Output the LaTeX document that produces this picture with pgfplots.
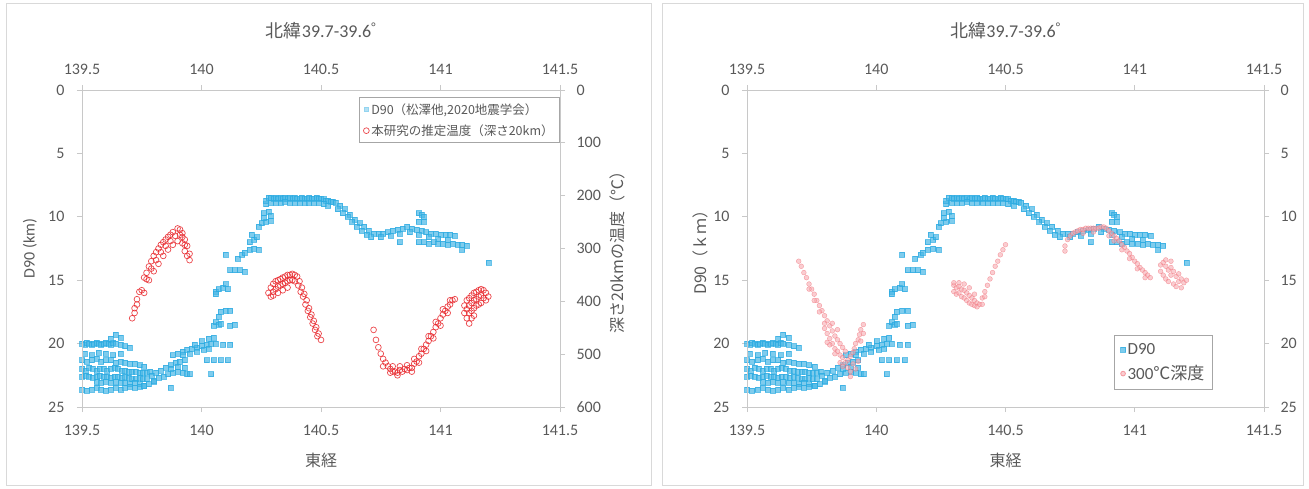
\documentclass[border=0pt]{standalone}
\usepackage{fontspec}
\usepackage{pgfplots}
\pgfplotsset{compat=1.18}
\usepackage{pgfplotstable}
\setmainfont{Carlito}
\newfontfamily\cjk{Noto Sans CJK JP}
\definecolor{dblue}{RGB}{40,170,225}
\definecolor{dred}{RGB}{232,40,45}
\definecolor{dpink}{RGB}{240,105,115}
\definecolor{axgray}{RGB}{200,200,200}
\definecolor{txtgray}{RGB}{89,89,89}
\definecolor{framegray}{RGB}{217,217,217}

% D90 (lon, depth km)
\pgfplotstableread[row sep=\\]{
x y\\
139.50 20.0\\ 139.51 20.1\\ 139.52 19.9\\ 139.53 20.0\\ 139.54 20.1\\ 139.55 20.0\\ 139.56 19.9\\ 139.57 20.0\\ 139.58 20.1\\ 139.59 20.0\\
139.60 19.9\\ 139.61 20.0\\ 139.62 20.1\\ 139.63 19.9\\ 139.64 20.0\\ 139.66 20.1\\ 139.68 20.2\\ 139.70 20.3\\ 139.62 19.6\\ 139.64 19.3\\ 139.66 19.5\\
139.51 20.8\\ 139.54 20.9\\ 139.57 20.7\\ 139.60 20.8\\ 139.63 20.9\\ 139.66 20.8\\
139.50 21.3\\ 139.52 21.4\\ 139.54 21.3\\ 139.56 21.2\\ 139.58 21.4\\ 139.60 21.3\\ 139.62 21.3\\ 139.64 21.5\\ 139.66 21.4\\ 139.68 21.5\\ 139.70 21.6\\ 139.72 21.6\\ 139.74 21.7\\ 139.76 21.8\\
139.50 22.0\\ 139.515 22.1\\ 139.53 21.9\\ 139.545 22.0\\ 139.56 22.1\\ 139.575 22.0\\ 139.59 22.0\\ 139.605 22.1\\ 139.62 22.0\\ 139.635 21.9\\ 139.65 22.0\\ 139.665 22.1\\ 139.68 22.1\\ 139.695 22.2\\ 139.71 22.2\\ 139.725 22.2\\ 139.74 22.3\\ 139.755 22.3\\ 139.77 22.3\\ 139.785 22.2\\
139.50 22.6\\ 139.515 22.5\\ 139.53 22.6\\ 139.545 22.7\\ 139.56 22.6\\ 139.575 22.5\\ 139.59 22.6\\ 139.605 22.6\\ 139.62 22.7\\ 139.635 22.6\\ 139.65 22.6\\ 139.665 22.7\\ 139.68 22.6\\ 139.695 22.7\\ 139.71 22.8\\ 139.725 22.8\\ 139.74 22.7\\ 139.755 22.8\\ 139.77 22.8\\
139.56 23.0\\ 139.58 23.1\\ 139.60 23.0\\ 139.62 23.1\\ 139.64 23.0\\ 139.66 23.1\\ 139.68 23.1\\ 139.70 23.2\\ 139.72 23.1\\ 139.74 23.2\\ 139.76 23.3\\ 139.78 23.2\\ 139.80 23.0\\
139.50 23.6\\ 139.52 23.7\\ 139.54 23.6\\ 139.56 23.5\\ 139.58 23.6\\ 139.60 23.7\\ 139.62 23.6\\ 139.64 23.5\\ 139.66 23.6\\ 139.68 23.5\\ 139.70 23.4\\ 139.72 23.5\\ 139.74 23.4\\ 139.76 23.3\\
139.79 22.5\\ 139.81 22.3\\ 139.83 22.1\\ 139.85 21.9\\ 139.87 21.7\\ 139.89 21.5\\ 139.91 21.4\\ 139.93 21.3\\ 139.80 22.9\\ 139.82 22.7\\ 139.84 22.6\\ 139.86 22.4\\ 139.88 22.3\\ 139.90 22.2\\ 139.92 22.3\\ 139.94 22.4\\ 139.87 22.0\\ 139.90 21.8\\ 139.93 21.9\\ 139.95 22.4\\
139.88 20.9\\ 139.90 20.8\\ 139.92 20.6\\ 139.94 20.5\\ 139.96 20.4\\ 139.98 20.3\\ 140.00 20.2\\ 140.02 20.1\\ 140.04 20.0\\ 139.92 20.9\\ 139.95 20.8\\ 139.98 20.6\\ 140.01 20.5\\ 140.03 20.4\\ 139.97 20.1\\ 140.00 19.8\\ 140.03 19.6\\ 140.05 19.5\\
140.06 20.0\\ 140.09 20.1\\ 140.12 20.1\\ 140.02 21.3\\ 140.05 21.3\\ 140.08 21.3\\ 140.11 21.3\\ 140.04 22.4\\ 139.87 23.5\\
140.05 18.6\\ 140.06 18.3\\ 140.07 18.5\\ 140.08 18.4\\ 140.12 18.6\\ 140.14 18.5\\ 140.07 17.9\\ 140.08 17.5\\ 140.10 17.4\\ 140.12 17.4\\
140.06 15.9\\ 140.07 15.7\\ 140.09 15.6\\ 140.11 15.7\\ 140.06 16.1\\ 140.10 15.3\\
140.10 13.0\\ 140.12 14.2\\ 140.14 14.2\\ 140.16 14.2\\ 140.18 14.3\\
140.15 13.3\\ 140.17 13.0\\ 140.18 12.8\\ 140.20 12.6\\ 140.22 12.5\\ 140.24 12.6\\ 140.20 12.0\\ 140.22 11.8\\ 140.23 11.6\\ 140.21 11.4\\
140.24 10.8\\ 140.25 10.5\\ 140.27 10.4\\ 140.29 10.3\\ 140.26 10.1\\ 140.26 9.7\\ 140.28 9.6\\ 140.29 9.9\\ 140.27 9.0\\ 140.27 8.7\\ 140.28 8.5\\
140.29 8.5\\ 140.30 8.6\\ 140.31 8.5\\ 140.32 8.6\\ 140.33 8.5\\ 140.34 8.6\\ 140.35 8.5\\ 140.36 8.6\\ 140.37 8.5\\ 140.38 8.6\\ 140.39 8.5\\ 140.40 8.6\\ 140.41 8.6\\ 140.42 8.5\\ 140.43 8.6\\ 140.44 8.6\\ 140.45 8.5\\ 140.46 8.6\\ 140.47 8.6\\ 140.48 8.5\\ 140.49 8.6\\ 140.50 8.6\\ 140.51 8.6\\ 140.52 8.7\\ 140.53 8.7\\ 140.54 8.8\\ 140.55 8.8\\
140.29 8.9\\ 140.31 8.9\\ 140.33 8.9\\ 140.35 8.8\\ 140.37 8.9\\ 140.39 8.9\\ 140.41 8.9\\ 140.43 8.9\\ 140.45 8.9\\ 140.47 8.9\\ 140.49 8.9\\ 140.51 9.0\\ 140.53 9.1\\
140.56 8.9\\ 140.58 9.1\\ 140.60 9.4\\ 140.62 9.8\\ 140.64 10.2\\ 140.66 10.5\\ 140.68 10.8\\ 140.70 11.1\\ 140.72 11.3\\
140.57 9.4\\ 140.59 9.7\\ 140.61 10.0\\ 140.63 10.4\\ 140.65 10.8\\ 140.67 11.1\\ 140.69 11.4\\ 140.71 11.6\\
140.74 11.3\\ 140.76 11.3\\ 140.78 11.2\\ 140.80 11.1\\ 140.82 11.0\\ 140.84 10.9\\ 140.86 10.8\\ 140.88 10.9\\ 140.90 11.0\\ 140.92 11.1\\ 140.94 11.2\\ 140.96 11.3\\ 140.98 11.3\\ 141.00 11.4\\ 141.02 11.4\\ 141.04 11.4\\ 141.06 11.5\\
140.75 11.6\\ 140.79 11.5\\ 140.83 11.3\\ 140.87 11.2\\ 140.91 11.4\\ 140.95 11.6\\ 140.99 11.7\\ 141.03 11.8\\
140.91 12.0\\ 140.93 12.0\\ 140.95 12.1\\ 140.97 12.0\\ 140.99 12.1\\ 141.01 12.1\\ 141.03 12.2\\ 141.05 12.1\\ 141.07 12.2\\ 141.09 12.2\\ 141.11 12.3\\
140.91 9.7\\ 140.92 9.8\\ 140.93 10.0\\ 140.91 10.4\\ 140.93 10.4\\
141.20 13.6\\ 140.83 12.0\\ 141.09 12.6\\
}\tblue

% estimated temperature at 20 km depth (lon, degC)
\pgfplotstableread[row sep=\\]{
x y\\
139.72 413\\ 139.74 382\\ 139.76 355\\ 139.78 334\\ 139.80 314\\ 139.82 300\\ 139.84 288\\ 139.86 278\\ 139.88 269\\ 139.90 262\\ 139.91 264\\
139.71 432\\ 139.73 406\\ 139.75 379\\ 139.77 358\\ 139.79 338\\ 139.81 322\\ 139.83 307\\ 139.85 295\\ 139.87 286\\ 139.89 276\\ 139.91 274\\ 139.92 278\\
139.76 384\\ 139.78 360\\ 139.80 343\\ 139.82 329\\ 139.84 314\\ 139.86 302\\ 139.88 293\\ 139.90 286\\ 139.92 290\\
139.93 305\\ 139.94 314\\ 139.95 322\\ 139.93 283\\ 139.94 295\\ 139.92 271\\ 139.93 293\\ 139.95 310\\
139.79 324\\ 139.83 293\\ 139.87 274\\ 139.85 283\\ 139.81 307\\ 139.77 346\\ 139.73 396\\ 139.72 422\\
140.28 384\\ 140.29 374\\ 140.29 391\\ 140.30 367\\ 140.30 382\\ 140.31 362\\ 140.31 377\\ 140.32 360\\ 140.32 372\\ 140.33 358\\ 140.33 370\\ 140.34 355\\ 140.34 367\\ 140.35 353\\
140.35 365\\ 140.36 350\\ 140.36 362\\ 140.37 350\\ 140.37 360\\ 140.38 348\\ 140.38 360\\ 140.39 350\\ 140.39 362\\ 140.40 353\\ 140.30 389\\ 140.32 384\\ 140.34 379\\ 140.36 374\\
140.41 362\\ 140.42 374\\ 140.43 386\\ 140.44 398\\ 140.45 413\\ 140.46 425\\ 140.47 437\\ 140.48 449\\ 140.49 461\\ 140.50 473\\
140.405 370\\ 140.415 382\\ 140.425 391\\ 140.435 406\\ 140.445 418\\ 140.455 430\\ 140.465 442\\ 140.475 454\\ 140.485 466\\
140.72 454\\ 140.73 473\\ 140.74 487\\ 140.75 499\\ 140.76 509\\ 140.77 516\\ 140.78 523\\ 140.79 528\\ 140.80 533\\ 140.81 533\\ 140.82 535\\ 140.83 530\\ 140.84 533\\ 140.85 528\\
140.86 530\\ 140.87 526\\ 140.88 526\\ 140.89 518\\ 140.90 514\\ 140.91 504\\ 140.92 499\\ 140.93 490\\ 140.94 482\\ 140.95 475\\ 140.96 466\\ 140.97 458\\ 140.98 449\\ 140.99 442\\
141.00 432\\ 141.01 425\\ 141.02 418\\ 141.03 410\\ 141.04 406\\ 141.05 398\\ 141.06 396\\
140.80 523\\ 140.83 523\\ 140.86 521\\ 140.89 509\\ 140.92 490\\ 140.95 466\\ 140.98 439\\ 141.01 415\\ 141.04 398\\
140.76 523\\ 140.79 535\\ 140.82 540\\ 140.88 533\\ 140.91 516\\ 140.94 494\\ 140.97 470\\ 141.00 446\\ 141.03 422\\
141.10 408\\ 141.10 422\\ 141.11 398\\ 141.11 415\\ 141.11 432\\ 141.12 394\\ 141.12 408\\ 141.12 422\\ 141.12 442\\ 141.13 389\\ 141.13 403\\ 141.13 418\\ 141.14 384\\ 141.14 398\\
141.14 413\\ 141.15 382\\ 141.15 396\\ 141.15 408\\ 141.16 379\\ 141.16 391\\ 141.16 406\\ 141.17 377\\ 141.17 389\\ 141.17 403\\ 141.18 379\\ 141.18 394\\ 141.19 384\\ 141.19 398\\
141.20 391\\ 141.14 427\\ 141.13 432\\
}\tred

% depth of 300 degC (lon, km)
\pgfplotstableread[row sep=\\]{
x y\\
139.70 13.5\\ 139.71 13.9\\ 139.72 14.4\\ 139.73 14.8\\ 139.74 15.3\\ 139.75 15.7\\ 139.76 16.1\\ 139.77 16.6\\ 139.78 17.0\\ 139.79 17.4\\ 139.80 17.8\\ 139.81 18.2\\
139.74 15.7\\ 139.76 16.6\\ 139.78 17.5\\ 139.80 18.4\\
139.80 18.8\\ 139.81 19.2\\ 139.82 18.6\\ 139.82 19.6\\ 139.83 19.0\\ 139.83 20.0\\ 139.84 19.4\\ 139.84 20.4\\ 139.85 19.7\\ 139.85 20.6\\ 139.86 20.0\\ 139.86 20.9\\ 139.87 20.3\\ 139.87 21.1\\
139.88 20.6\\ 139.82 20.1\\ 139.84 20.8\\ 139.81 19.9\\ 139.83 18.4\\ 139.85 18.9\\
139.95 18.5\\ 139.94 18.9\\ 139.935 19.3\\ 139.93 19.7\\ 139.92 20.0\\ 139.915 20.4\\ 139.91 20.7\\ 139.90 21.0\\ 139.89 21.3\\ 139.95 19.2\\ 139.94 19.8\\
139.88 21.5\\ 139.89 21.9\\ 139.90 22.2\\ 139.91 21.6\\ 139.92 22.0\\ 139.93 21.4\\ 139.90 22.6\\ 139.87 21.8\\ 139.86 21.5\\
140.30 15.4\\ 140.30 15.9\\ 140.31 15.6\\ 140.31 16.1\\ 140.32 15.5\\ 140.32 16.0\\ 140.33 15.7\\ 140.33 16.3\\ 140.34 15.8\\ 140.34 16.4\\ 140.35 16.0\\ 140.35 16.6\\ 140.36 16.2\\
140.36 16.8\\ 140.37 16.4\\ 140.37 16.9\\ 140.38 16.6\\ 140.38 17.0\\ 140.39 16.8\\ 140.39 17.1\\ 140.40 16.9\\ 140.30 15.2\\ 140.32 15.2\\ 140.34 15.3\\ 140.36 15.6\\ 140.38 16.1\\
140.41 16.4\\ 140.42 15.9\\ 140.43 15.4\\ 140.44 14.9\\ 140.45 14.4\\ 140.46 13.9\\ 140.47 13.5\\ 140.48 13.0\\ 140.49 12.6\\ 140.50 12.2\\ 140.41 16.9\\ 140.42 16.3\\
140.73 12.3\\ 140.73 12.7\\ 140.74 11.8\\ 140.75 11.5\\ 140.76 11.3\\ 140.77 11.2\\ 140.78 11.1\\ 140.79 11.0\\ 140.80 11.0\\ 140.81 10.9\\ 140.82 10.9\\ 140.83 10.9\\ 140.84 10.9\\
140.85 10.9\\ 140.86 10.9\\ 140.87 10.8\\ 140.88 10.8\\ 140.89 10.9\\ 140.90 11.1\\ 140.91 11.3\\ 140.92 11.5\\ 140.93 11.7\\ 140.94 11.9\\ 140.95 12.2\\ 140.96 12.4\\ 140.97 12.7\\
140.98 12.9\\ 140.99 13.2\\ 141.00 13.5\\ 141.01 13.7\\ 141.02 14.0\\ 141.03 14.2\\ 141.04 14.4\\ 141.05 14.6\\ 141.06 14.8\\
140.92 11.9\\ 140.95 12.6\\ 140.98 13.3\\ 141.01 14.1\\ 141.04 14.8\\ 140.90 11.5\\ 140.80 11.3\\ 140.84 11.2\\
141.10 13.8\\ 141.10 14.3\\ 141.11 13.6\\ 141.11 14.6\\ 141.12 13.9\\ 141.12 14.9\\ 141.13 14.2\\ 141.13 15.1\\ 141.14 14.0\\ 141.14 14.6\\ 141.15 14.3\\ 141.15 15.3\\ 141.16 14.7\\
141.16 15.5\\ 141.17 14.5\\ 141.17 15.1\\ 141.18 14.9\\ 141.18 15.6\\ 141.19 15.2\\ 141.20 15.0\\ 141.12 13.4\\ 141.14 13.5\\
}\tpink

\pgfplotsset{
  panel/.style={
    scale only axis, height=317pt,
    xmin=139.5, xmax=141.5, y dir=reverse,
    axis line style={axgray, line width=0.8pt},
    tick style={axgray, line width=0.8pt},
    tick align=outside, major tick length=5pt,
    xtick={139.5,140,140.5,141,141.5},
    xticklabels={139.5,140,140.5,141,141.5},
    /pgf/number format/assume math mode=true,
    label style={font=\fontsize{16}{19}\selectfont, text=txtgray},
    title style={font=\fontsize{18}{21}\selectfont, text=txtgray},
  },
  bluepts/.style={only marks, mark=square*, mark size=2.5pt, color=dblue, mark options={draw=none, fill=dblue!85!white, opacity=0.7}},
  redpts/.style={only marks, mark=o, mark size=2.9pt, color=dred, mark options={draw=dred, line width=0.7pt, opacity=0.85}},
  pinkpts/.style={only marks, mark=*, mark size=2.4pt, color=dpink, mark options={draw=dpink, fill=dpink!55!white, opacity=0.6}},
}

\begin{document}
\begin{tikzpicture}[x=1pt,y=1pt]
\useasboundingbox (0,0) rectangle (1309,488);
\draw[framegray, line width=0.8pt] (6,3) rectangle (651,485);
\draw[framegray, line width=0.8pt] (662,3) rectangle (1303,485);

% ---------- left panel ----------
\begin{axis}[panel, at={(82pt,81pt)}, anchor=south west, width=478pt,
  xtick pos=bottom, ytick pos=left, xticklabel pos=lower, yticklabel pos=left,
  xticklabel style={font=\fontsize{16}{18}\selectfont, text=txtgray, anchor=north, yshift=-10pt},
  yticklabel style={font=\fontsize{16}{18}\selectfont, text=txtgray, anchor=east, xshift=-9pt},
  ymin=0, ymax=25, ytick={0,5,10,15,20,25},
  xlabel={\cjk 東経}, xlabel style={at={(axis description cs:0.5,-0.167)}, anchor=center},
  ylabel={D90 (km)}, ylabel style={at={(axis description cs:-0.109,0.5)}, anchor=center}]
  \addplot[bluepts] table {\tblue};
\end{axis}
\begin{axis}[panel, at={(82pt,81pt)}, anchor=south west, width=478pt,
  xtick pos=top, ytick pos=right, xticklabel pos=upper, yticklabel pos=right,
  xticklabel style={font=\fontsize{16}{18}\selectfont, text=txtgray, anchor=south, yshift=7pt},
  yticklabel style={font=\fontsize{16}{18}\selectfont, text=txtgray, anchor=west, xshift=8pt},
  ymin=0, ymax=600, ytick={0,100,200,300,400,500,600},
  title={{\cjk 北緯}39.7-39.6\textsuperscript{°}}, title style={at={(axis description cs:0.5,1.167)}, anchor=center},
  ylabel={\cjk 深さ20kmの温度（℃）}, ylabel style={at={(axis description cs:1.121,0.5)}, anchor=center, rotate=0},
  legend style={at={(1,0.978)}, anchor=north east, draw=gray!70, line width=0.8pt, font=\cjk\fontsize{12.5}{14}\selectfont, text=txtgray, inner sep=4pt, row sep=5pt, /tikz/every even column/.append style={column sep=2pt}},
  legend cell align=left]
  \addlegendimage{only marks, mark=square*, mark size=1.8pt, mark options={draw=dblue!50!white, fill=dblue!35!white}}
  \addlegendentry{D90（松澤他,2020地震学会）}
  \addplot[redpts] table {\tred};
  \addlegendentry{本研究の推定温度（深さ20km）}
\end{axis}

% ---------- right panel ----------
\begin{axis}[panel, at={(747pt,81pt)}, anchor=south west, width=517pt,
  xtick pos=bottom, ytick pos=left, xticklabel pos=lower, yticklabel pos=left,
  xticklabel style={font=\fontsize{16}{18}\selectfont, text=txtgray, anchor=north, yshift=-10pt},
  yticklabel style={font=\fontsize{16}{18}\selectfont, text=txtgray, anchor=east, xshift=-9pt},
  ymin=0, ymax=25, ytick={0,5,10,15,20,25},
  xlabel={\cjk 東経}, xlabel style={at={(axis description cs:0.5,-0.167)}, anchor=center},
  ylabel={\cjk D90（ｋｍ）}, ylabel style={at={(axis description cs:-0.091,0.5)}, anchor=center},
  legend style={at={(0.901,0.054)}, anchor=south east, draw=gray!70, line width=0.8pt, font=\fontsize{17}{19}\selectfont, text=txtgray, inner sep=6pt, row sep=6pt, /tikz/every even column/.append style={column sep=4pt}},
  legend cell align=left]
  \addplot[bluepts] table {\tblue};
  \addlegendentry{D90}
  \addplot[pinkpts] table {\tpink};
  \addlegendentry{300{\cjk ℃深度}}
\end{axis}
\begin{axis}[panel, at={(747pt,81pt)}, anchor=south west, width=517pt,
  xtick pos=top, ytick pos=right, xticklabel pos=upper, yticklabel pos=right,
  xticklabel style={font=\fontsize{16}{18}\selectfont, text=txtgray, anchor=south, yshift=7pt},
  yticklabel style={font=\fontsize{16}{18}\selectfont, text=txtgray, anchor=west, xshift=8pt},
  ymin=0, ymax=25, ytick={0,5,10,15,20,25},
  title={{\cjk 北緯}39.7-39.6\textsuperscript{°}}, title style={at={(axis description cs:0.5,1.167)}, anchor=center}]
  \addplot[draw=none, forget plot] coordinates {(140,10)};
\end{axis}
\end{tikzpicture}
\end{document}
